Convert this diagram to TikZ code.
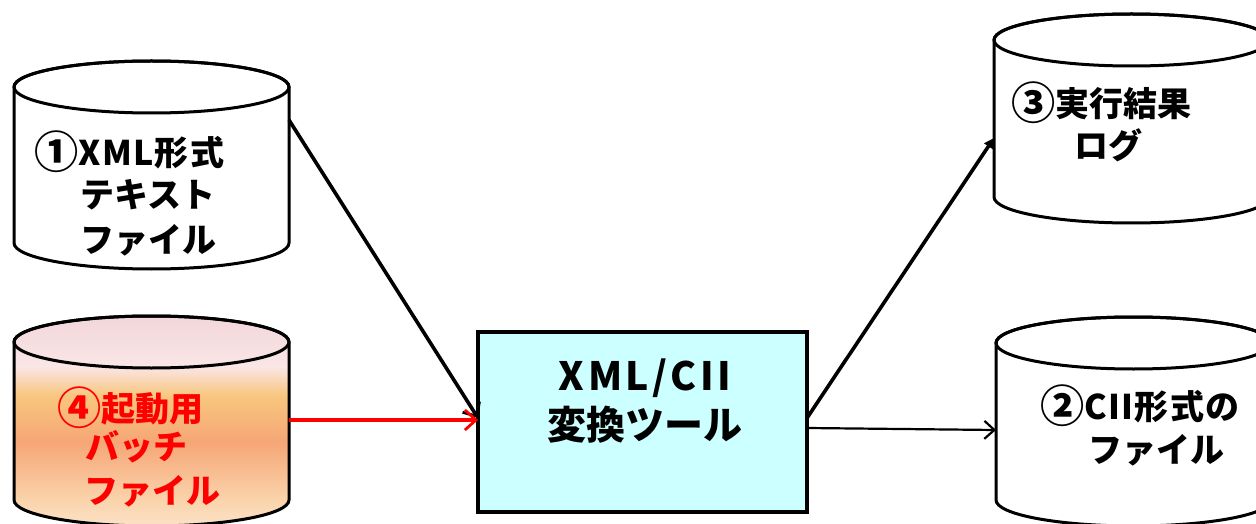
\documentclass[tikz,border=0pt]{standalone}
\usepackage{fontspec}
\newfontfamily\jp{Noto Sans CJK JP}
\usetikzlibrary{arrows.meta}
\definecolor{toolfill}{HTML}{CCFFFF}
\definecolor{bc1}{HTML}{F2D6DA}
\definecolor{bc2}{HTML}{FAE6E6}
\definecolor{bc3}{HTML}{F8C67E}
\definecolor{bc4}{HTML}{F6A676}
\definecolor{bc5}{HTML}{FAD4AC}
\definecolor{bc6}{HTML}{FCE2C8}
\pgfdeclareverticalshading{batchshade}{100bp}{color(0bp)=(bc6); color(25bp)=(bc6); color(31bp)=(bc5); color(45bp)=(bc4); color(56bp)=(bc3); color(63bp)=(bc2); color(75bp)=(bc1); color(100bp)=(bc1)}
\newcommand{\mycyl}[5]{%
  \path[#5] (#1,#3) -- (#1,#4) arc[start angle=180,end angle=360,x radius=137.5,y radius=26] -- (#2,#3) arc[start angle=0,end angle=180,x radius=137.5,y radius=26] -- cycle;
  \draw[cylline] (#1+137.5,#3) ellipse[x radius=137.5,y radius=26];
}
\newcommand{\cd}[1]{\raisebox{-3pt}{\scalebox{1.3}{#1}}}
\begin{document}
\begin{tikzpicture}[x=1pt,y=1pt,
  cylline/.style={line width=3pt},
  cylplain/.style={draw,line width=3pt,fill=white},
  cylbatch/.style={draw,line width=3pt,shading=batchshade},
  lbl/.style={font=\jp\bfseries\fontsize{34}{40}\selectfont,inner sep=0pt,anchor=west},
  boxlbl/.style={font=\jp\bfseries\fontsize{39}{44}\selectfont,inner sep=0pt},
  toolbox/.style={draw,line width=4pt,fill=toolfill,minimum width=329pt,minimum height=180pt,inner sep=0pt},
  conn/.style={line width=3.6pt},
  open/.style={-{Straight Barb[length=11pt,width=20pt,line width=2.8pt]}}
]
\useasboundingbox (0,0) rectangle (1256,523);
\clip (0,0) rectangle (1256,523);
% cylinders
\mycyl{14}{289}{436}{280}{cylplain}
\mycyl{14}{289}{181}{23}{cylbatch}
\mycyl{994}{1269}{483}{326}{cylplain}
\mycyl{996}{1271}{180}{23}{cylplain}
\coordinate (c1r) at (289,403);
\coordinate (c4r) at (289,103);
\coordinate (c3l) at (994,385);
\coordinate (c2l) at (996,93);
% tool box
\node[toolbox] (tool) at (642.5,101) {};
\coordinate (toolin) at (478,105);
\coordinate (toolinr) at (478,103);
\coordinate (toolout1) at (807,105);
\coordinate (toolout2) at (807,95);
\node[boxlbl] (tl1) at (645,145) {\addfontfeature{LetterSpace=9}XML/CII};
\node[boxlbl] (tl2) at (645,98) {変換ツール};
% labels
\node[lbl] (a1) at (34,371) {\cd{①}\addfontfeature{LetterSpace=4}XML形式};
\node[lbl] (a2) at (80,328) {テキスト};
\node[lbl] (a3) at (80,283) {ファイル};
\node[lbl,text=red] (d1) at (57,115) {\cd{④}起動用};
\node[lbl,text=red] (d2) at (85,76) {バッチ};
\node[lbl,text=red] (d3) at (84,32) {ファイル};
\node[lbl] (c1) at (1011,420) {\cd{③}実行結果};
\node[lbl] (c2) at (1074,378) {ログ};
\node[lbl] (b1) at (1040,117) {\cd{②}\addfontfeature{LetterSpace=4}CII形式の};
\node[lbl] (b2) at (1088,73) {ファイル};
% connectors
\draw[conn,open] (c1r) -- (toolin);
\draw[conn,red,-{Straight Barb[length=11pt,width=20pt,line width=2.8pt]}] (c4r) -- (toolinr);
\draw[conn,-{Triangle[length=10pt,width=10pt]}] (toolout1) -- (c3l);
\draw[line width=2.2pt,-{Straight Barb[length=10pt,width=18pt,line width=2.2pt]}] (toolout2) -- (c2l);
\end{tikzpicture}
\end{document}
